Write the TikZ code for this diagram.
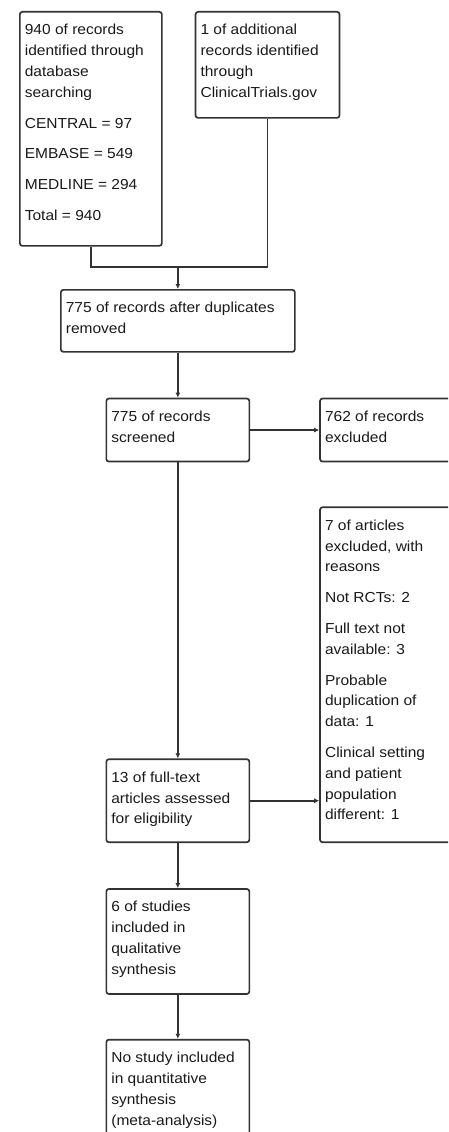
\documentclass[tikz,border=0pt]{standalone}
\usepackage{fontspec}
\setmainfont{Liberation Sans}[FakeStretch=1.07]
\usepackage{tikz}
\usetikzlibrary{positioning,arrows.meta}
\newcommand{\boxtxt}[3]{\parbox[t][#2][t]{#1}{\raggedright\rule{0pt}{23pt}#3}}

\begin{document}
\begin{tikzpicture}[
  x=1pt, y=1pt, >={Latex[length=5pt,width=5pt]},
  box/.style={draw=black!80, line width=1.7pt, rounded corners=2.5pt,
              inner xsep=5pt, inner ysep=0pt, text=black!90,
              font=\fontsize{14.5}{20.8}\selectfont},
  link/.style={draw=black!80, line width=1.7pt}]
  \useasboundingbox (0,0) rectangle (448,-1132);
  \clip (0,0) rectangle (448,-1132);
  \node[box, anchor=north west] (ident) at (19,-11)
    {\boxtxt{132pt}{234pt}{940 of records\\identified through\\database\\searching\\[10pt]
      CENTRAL = 97\\[10pt]EMBASE = 549\\[10pt]MEDLINE = 294\\[10pt]Total = 940}};
  \node[box, right=32pt of ident.north east, anchor=north west] (extra)
    {\boxtxt{134pt}{106pt}{1 of additional\\records identified\\through\\ClinicalTrials.gov}};
  \node[box, anchor=north west] (dedup) at (60,-289)
    {\boxtxt{224pt}{62pt}{775 of records after duplicates\\removed}};
  \node[box, below=45pt of dedup] (screen)
    {\boxtxt{133pt}{63pt}{775 of records\\screened}};
  \node[box, right=69pt of screen] (excl)
    {\boxtxt{150pt}{63pt}{762 of records\\excluded}};
  \node[box, below=296pt of screen] (full)
    {\boxtxt{133pt}{83pt}{13 of full-text\\articles assessed\\for eligibility}};
  \node[box, right=69pt of full.south east, anchor=south west] (reasons)
    {\boxtxt{150pt}{335pt}{7 of articles\\excluded, with\\reasons\\[10pt]Not RCTs: 2\\[10pt]
      Full text not\\available: 3\\[10pt]Probable\\duplication of\\data: 1\\[10pt]
      Clinical setting\\and patient\\population\\different: 1}};
  \node[box, below=45pt of full] (qual)
    {\boxtxt{133pt}{105pt}{6 of studies\\included in\\qualitative\\synthesis}};
  \node[box, below=44pt of qual] (quant)
    {\boxtxt{133pt}{120pt}{No study included\\in quantitative\\synthesis\\(meta-analysis)}};
  \coordinate[above=22pt of dedup] (merge);
  \draw[link] (ident.south) |- (merge) -| (extra.south);
  \draw[link, ->] (merge) -- (dedup);
  \draw[link, ->] (dedup) -- (screen);
  \draw[link, ->] (screen) -- (excl);
  \draw[link, ->] (screen) -- (full);
  \draw[link, ->] (full.east) -- (full.east -| reasons.west);
  \draw[link, ->] (full) -- (qual);
  \draw[link, ->] (qual) -- (quant);
\end{tikzpicture}
\end{document}
